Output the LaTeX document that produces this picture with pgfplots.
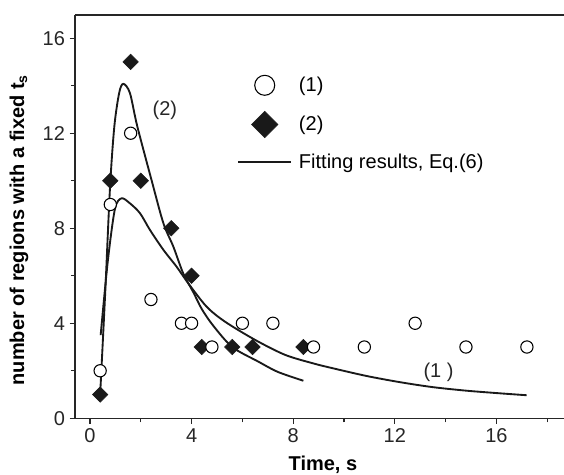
\documentclass[border=0pt]{standalone}
\usepackage{pgfplots}
\pgfplotsset{compat=1.18}
\usepackage{fontspec}
\setmainfont{Liberation Sans}

\pgfplotstableread{
x y
0.4 2
0.8 9
1.6 12
2.4 5
3.6 4
4.0 4
4.8 3
6.0 4
7.2 4
8.8 3
10.8 3
12.8 4
14.8 3
17.2 3
}\seriesone

\pgfplotstableread{
x y
0.4 1
0.8 10
1.6 15
2.0 10
3.2 8
4.0 6
4.4 3
5.6 3
6.4 3
8.4 3
}\seriestwo

\pgfplotstableread{
x y
0.42 3.5
0.70 6.6
0.98 8.8
1.24 9.26
1.57 9.05
1.97 8.63
2.36 7.93
2.89 7.09
3.41 6.38
3.87 5.68
4.59 4.70
5.31 4.07
6.50 3.30
7.68 2.67
8.79 2.31
9.58 2.10
10.89 1.78
12.20 1.52
13.50 1.31
14.83 1.16
16.14 1.05
17.19 0.97
}\fitone

\pgfplotstableread{
x y
0.40 1.0
0.60 5.3
0.79 9.75
0.96 12.3
1.15 13.7
1.31 14.08
1.57 13.7
1.86 12.3
2.43 10.0
2.89 8.21
3.28 7.23
3.67 6.10
4.07 5.30
4.40 4.60
4.85 3.90
5.60 3.00
6.60 2.40
7.40 1.95
8.40 1.58
}\fittwo

\begin{document}
\begin{tikzpicture}
\useasboundingbox (-56.25pt,-42.5pt) rectangle (366.75pt,313.7pt);
\begin{axis}[
    at={(0pt,0pt)}, anchor=south west,
    scale only axis, width=366.75pt, height=302.5pt,
    xmin=-0.59, xmax=18.66, ymin=0, ymax=16.98,
    axis x line=box, axis y line=left,
    axis line style={-, line width=1.1pt, black!85},
    xtick={0,4,8,12,16}, ytick={0,4,8,12,16},
    minor xtick={2,6,10,14,18}, minor ytick={2,6,10,14},
    xtick pos=left, ytick pos=left,
    tick align=outside,
    major tick length=4pt, minor tick length=3pt,
    tick style={line width=0.9pt, black!85},
    /pgf/number format/assume math mode=true,
    every tick label/.append style={font=\fontsize{15}{18}\selectfont, black!85},
    xlabel={Time, s},
    ylabel={number of regions with a fixed t\textsubscript{s}},
    label style={font=\bfseries\fontsize{15}{18}\selectfont},
    xlabel style={at={(axis description cs:0.507,-0.116)}, anchor=center},
    ylabel style={at={(axis description cs:-0.1145,0.467)}, anchor=center},
    clip=false,
    legend image code/.code={\draw[mark repeat=2,mark phase=2,#1]
        plot coordinates {(0pt,0pt)(20pt,0pt)(40pt,0pt)};},
    legend style={at={(axis description cs:0.331,0.851)}, anchor=north west,
        draw=none, fill=none, inner sep=0pt, row sep=12pt,
        font=\fontsize{15}{18}\selectfont,
        nodes={inner sep=0pt},
        /tikz/every odd column/.append style={column sep=5pt}},
    legend cell align=left,
]
\addlegendimage{only marks, mark=*, mark size=7.5pt,
    mark options={fill=white, draw=black, line width=0.8pt}}
\addlegendentry{(1)}
\addlegendimage{only marks, mark=square*, mark size=7pt,
    mark options={rotate=45, fill=black!90, draw=black!90}}
\addlegendentry{(2)}
\addlegendimage{line width=1.4pt, black!90}
\addlegendentry{Fitting results, Eq.(6)}

\addplot[forget plot, only marks, mark=square*, mark size=4.1pt,
    mark options={rotate=45, fill=black!90, draw=black!90}]
    table {\seriestwo};
\addplot[forget plot, only marks, mark=*, mark size=4.6pt,
    mark options={fill=white, draw=black, line width=0.8pt}]
    table {\seriesone};
\addplot[forget plot, smooth, tension=0.5, line width=1.4pt, black!90]
    table {\fitone};
\addplot[forget plot, smooth, tension=0.5, line width=1.4pt, black!90]
    table {\fittwo};

\node[font=\fontsize{15}{18}\selectfont, black!85] at (axis cs:2.95,12.98) {(2)};
\node[font=\fontsize{15}{18}\selectfont, black!85] at (axis cs:13.72,1.93) {(1 )};
\end{axis}
\end{tikzpicture}
\end{document}
